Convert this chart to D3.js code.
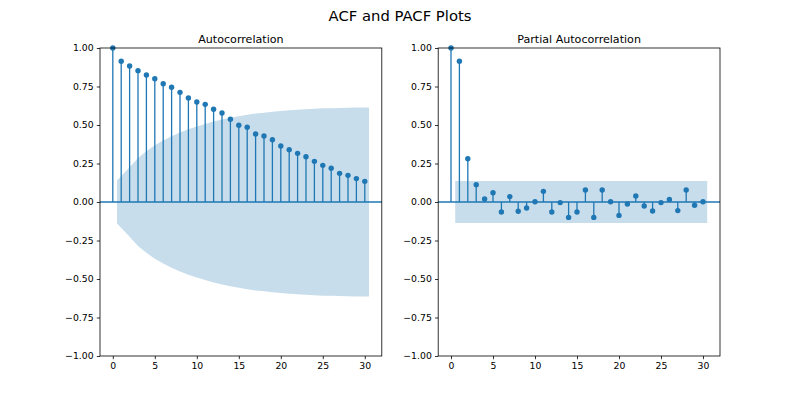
<!DOCTYPE html>
<html>
<head>
<meta charset="utf-8">
<script src="https://cdn.jsdelivr.net/npm/d3@7"></script>
<style>
  body { margin: 0; background: #fff; }
  svg text { font-family: "DejaVu Sans", sans-serif; fill: #000; }
</style>
</head>
<body>
<svg id="chart" width="800" height="400"></svg>
<script>
// lags 0..30
var lags = d3.range(0, 31);

var acfValues = [1.0, 0.914, 0.883, 0.853, 0.825, 0.80, 0.768, 0.745, 0.712, 0.675,
  0.649, 0.634, 0.602, 0.578, 0.537, 0.498, 0.485, 0.442, 0.429, 0.405,
  0.364, 0.34, 0.316, 0.294, 0.264, 0.238, 0.219, 0.186, 0.173, 0.152, 0.134];

// half width of confidence band, lags 1..30
var acfBand = [0.139, 0.226, 0.285, 0.330, 0.368, 0.400, 0.427, 0.452, 0.473, 0.491,
  0.507, 0.522, 0.535, 0.547, 0.557, 0.566, 0.574, 0.580, 0.586, 0.591,
  0.596, 0.599, 0.603, 0.605, 0.608, 0.609, 0.611, 0.612, 0.613, 0.614];

var pacfValues = [1.0, 0.914, 0.281, 0.112, 0.019, 0.06, -0.065, 0.035, -0.06, -0.039,
  0.002, 0.069, -0.065, -0.004, -0.1, -0.065, 0.078, -0.1, 0.078, 0.002,
  -0.087, -0.013, 0.039, -0.026, -0.058, -0.004, 0.017, -0.056, 0.078, -0.021, 0.002];

var pacfBand = [0.137, 0.137, 0.137, 0.137, 0.137, 0.137, 0.137, 0.137, 0.137, 0.137,
  0.137, 0.137, 0.137, 0.137, 0.137, 0.137, 0.137, 0.137, 0.137, 0.137,
  0.137, 0.137, 0.137, 0.137, 0.137, 0.137, 0.137, 0.137, 0.137, 0.137];

var xTicks = [0, 5, 10, 15, 20, 25, 30];
var yTicks = [-1, -0.75, -0.5, -0.25, 0, 0.25, 0.5, 0.75, 1];

var blue = '#1f77b4';
var svg = d3.select('#chart');

svg.append('text')
  .attr('x', 400).attr('y', 21)
  .attr('text-anchor', 'middle')
  .style('font-size', '14.8px')
  .text('ACF and PACF Plots');

function minusFmt(v) {
  return d3.format('.2f')(v).replace('-', '\u2212');
}

function drawPanel(left, right, title, values, band) {
  var top = 48, bottom = 356;
  var x = d3.scaleLinear().domain([-1.525, 32.025]).range([left, right]);
  var y = d3.scaleLinear().domain([-1, 1]).range([bottom, top]);
  var g = svg.append('g');

  // stems
  g.selectAll('line.stem').data(lags).enter().append('line')
    .attr('x1', function (d) { return x(d); })
    .attr('x2', function (d) { return x(d); })
    .attr('y1', y(0))
    .attr('y2', function (d) { return y(values[d]); })
    .attr('stroke', blue)
    .attr('stroke-width', 1.3);

  // zero line
  g.append('line')
    .attr('x1', left).attr('x2', right)
    .attr('y1', y(0)).attr('y2', y(0))
    .attr('stroke', blue)
    .attr('stroke-width', 1.5);

  // markers
  g.selectAll('circle').data(lags).enter().append('circle')
    .attr('cx', function (d) { return x(d); })
    .attr('cy', function (d) { return y(values[d]); })
    .attr('r', 2.7)
    .attr('fill', blue);

  // confidence band
  var bandLags = lags.slice(1).map(function (d, i, arr) {
    if (i === 0) return d - 0.5;
    if (i === arr.length - 1) return d + 0.5;
    return d;
  });
  var area = d3.area()
    .x(function (d, i) { return x(bandLags[i]); })
    .y0(function (d) { return y(-d); })
    .y1(function (d) { return y(d); });
  g.append('path')
    .attr('d', area(band))
    .attr('fill', blue)
    .attr('fill-opacity', 0.25)
    .attr('stroke', 'none');

  // axes
  var xAxis = d3.axisBottom(x).tickValues(xTicks).tickSize(3.2).tickPadding(3.2)
    .tickFormat(d3.format('d'));
  var yAxis = d3.axisLeft(y).tickValues(yTicks).tickSize(3.2).tickPadding(3.2)
    .tickFormat(minusFmt);

  var gx = svg.append('g').attr('transform', 'translate(0,' + bottom + ')').call(xAxis);
  var gy = svg.append('g').attr('transform', 'translate(' + left + ',0)').call(yAxis);
  [gx, gy].forEach(function (a) {
    a.select('.domain').remove();
    a.selectAll('.tick line').attr('stroke', '#000').attr('stroke-width', 0.8);
    a.selectAll('.tick text').style('font-size', '9.3px').style('font-family', '"DejaVu Sans", sans-serif');
  });

  // frame
  svg.append('rect')
    .attr('x', left).attr('y', top)
    .attr('width', right - left).attr('height', bottom - top)
    .attr('fill', 'none')
    .attr('stroke', '#000')
    .attr('stroke-width', 0.8);

  svg.append('text')
    .attr('x', (left + right) / 2).attr('y', 43)
    .attr('text-anchor', 'middle')
    .style('font-size', '11.1px')
    .text(title);
}

drawPanel(100, 381.8, 'Autocorrelation', acfValues, acfBand);
drawPanel(438.2, 720, 'Partial Autocorrelation', pacfValues, pacfBand);
</script>
</body>
</html>
